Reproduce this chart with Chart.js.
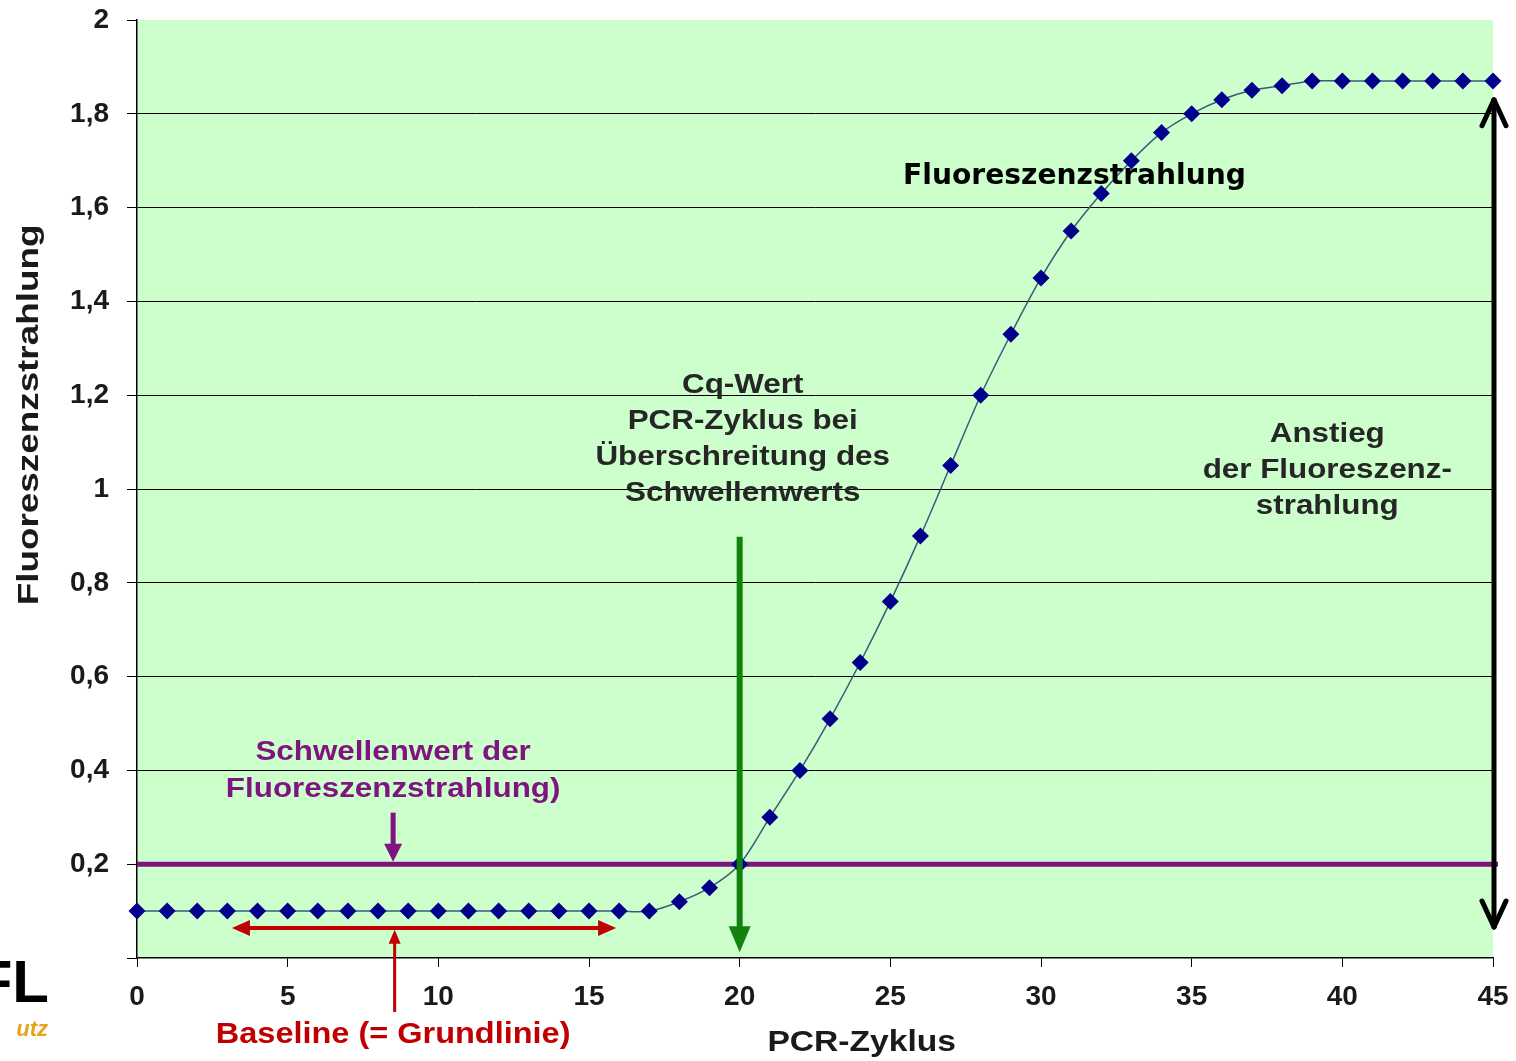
<!DOCTYPE html>
<html>
<head>
<meta charset="utf-8">
<script src="https://cdn.jsdelivr.net/npm/chart.js@4.4.1/dist/chart.umd.min.js"></script>
<style>
  html, body { margin: 0; padding: 0; background: #fff; }
  #wrap { width: 1516px; height: 1061px; position: relative; }
</style>
</head>
<body>
<div id="wrap"><canvas id="chart"></canvas></div>
<script>
// PCR-Zyklus (x) und Fluoreszenz (y)
const cycles = [0,1,2,3,4,5,6,7,8,9,10,11,12,13,14,15,16,17,18,19,20,21,22,23,24,25,26,27,28,29,30,31,32,33,34,35,36,37,38,39,40,41,42,43,44,45];
const fluorescence = [0.1,0.1,0.1,0.1,0.1,0.1,0.1,0.1,0.1,0.1,0.1,0.1,0.1,0.1,0.1,0.1,0.1,0.1,0.12,0.15,0.2,0.3,0.4,0.51,0.63,0.76,0.9,1.05,1.2,1.33,1.45,1.55,1.63,1.7,1.76,1.8,1.83,1.85,1.86,1.87,1.87,1.87,1.87,1.87,1.87,1.87];
const threshold = 0.2;
const cqCycle = 20;
const baselineRange = [3.15, 15.9];
const xTicks = [0,5,10,15,20,25,30,35,40,45];

const FONT = '"Liberation Sans", Arial, sans-serif';
const STRETCH = 1.12; // Text im Original ist leicht in die Breite gezogen

function arrowHead(ctx, x, y, dir, len, half, color) {
  ctx.fillStyle = color;
  ctx.beginPath();
  if (dir === 'down') { ctx.moveTo(x, y); ctx.lineTo(x - half, y - len); ctx.lineTo(x + half, y - len); }
  if (dir === 'up') { ctx.moveTo(x, y); ctx.lineTo(x - half, y + len); ctx.lineTo(x + half, y + len); }
  if (dir === 'left') { ctx.moveTo(x, y); ctx.lineTo(x + len, y - half); ctx.lineTo(x + len, y + half); }
  if (dir === 'right') { ctx.moveTo(x, y); ctx.lineTo(x - len, y - half); ctx.lineTo(x - len, y + half); }
  ctx.closePath();
  ctx.fill();
}

function line(ctx, x1, y1, x2, y2, color, w) {
  ctx.strokeStyle = color;
  ctx.lineWidth = w;
  ctx.beginPath();
  ctx.moveTo(x1, y1);
  ctx.lineTo(x2, y2);
  ctx.stroke();
}

function wideText(ctx, t, x, y, align, sx) {
  ctx.save();
  ctx.translate(x, y);
  ctx.scale(sx, 1);
  ctx.textAlign = align;
  ctx.fillText(t, 0, 0);
  ctx.restore();
}

function texts(ctx, lines, x, y, lh, color, font) {
  ctx.fillStyle = color;
  ctx.font = font;
  ctx.textBaseline = 'middle';
  lines.forEach((t, i) => wideText(ctx, t, x, y + i * lh, 'center', STRETCH));
}

const background = {
  id: 'background',
  beforeDraw(chart) {
    const { ctx, chartArea: a } = chart;
    ctx.save();
    ctx.fillStyle = '#ccffcc';
    ctx.fillRect(a.left, a.top, a.right - a.left, a.bottom - a.top);
    ctx.restore();
  }
};

// Schwellenwertlinie unter den Punkten
const thresholdLine = {
  id: 'thresholdLine',
  beforeDatasetsDraw(chart) {
    const { ctx, scales: { x, y } } = chart;
    ctx.save();
    line(ctx, x.getPixelForValue(0), y.getPixelForValue(threshold), x.getPixelForValue(45) + 5, y.getPixelForValue(threshold), '#7f137f', 5);
    ctx.restore();
  }
};

const annotations = {
  id: 'annotations',
  afterDraw(chart) {
    const { ctx, scales: { x, y } } = chart;
    const px = v => x.getPixelForValue(v);
    const py = v => y.getPixelForValue(v);
    ctx.save();

    // Cq-Pfeil (grün)
    const gx = px(cqCycle);
    line(ctx, gx, py(0.898), gx, py(0.06), '#12820f', 6);
    arrowHead(ctx, gx, py(0.012), 'down', 26, 11, '#12820f');

    // Schwellenwert-Pfeil (lila)
    const sx = px(8.5);
    line(ctx, sx, py(0.31), sx, py(0.24), '#7f137f', 5);
    arrowHead(ctx, sx, py(0.205), 'down', 18, 9, '#7f137f');

    // Baseline-Doppelpfeil (rot)
    const ry = py(0.064);
    line(ctx, px(baselineRange[0]) + 14, ry, px(baselineRange[1]) - 14, ry, '#c00000', 4);
    arrowHead(ctx, px(baselineRange[0]), ry, 'left', 18, 8, '#c00000');
    arrowHead(ctx, px(baselineRange[1]), ry, 'right', 18, 8, '#c00000');
    const rx = px(8.55);
    line(ctx, rx, py(-0.115), rx, py(0.04), '#c00000', 3);
    arrowHead(ctx, rx, py(0.06), 'up', 14, 6, '#c00000');

    // Anstieg-Doppelpfeil (schwarz)
    const bx = px(45) + 1;
    const bTop = py(1.83), bBot = py(0.066);
    line(ctx, bx, bTop + 3, bx, bBot - 3, '#000', 5);
    ctx.lineCap = 'round';
    line(ctx, bx, bTop, bx - 12, bTop + 26, '#000', 5);
    line(ctx, bx, bTop, bx + 12, bTop + 26, '#000', 5);
    line(ctx, bx, bBot, bx - 12, bBot - 26, '#000', 5);
    line(ctx, bx, bBot, bx + 12, bBot - 26, '#000', 5);
    ctx.lineCap = 'butt';

    // Texte
    const f28 = 'bold 28px ' + FONT;
    texts(ctx, ['Cq-Wert', 'PCR-Zyklus bei', 'Überschreitung des', 'Schwellenwerts'], px(20.1), py(1.222), 36, '#262626', f28);
    texts(ctx, ['Anstieg', 'der Fluoreszenz-', 'strahlung'], px(39.5), py(1.117), 36, '#262626', f28);
    texts(ctx, ['Schwellenwert der', 'Fluoreszenzstrahlung)'], px(8.5), py(0.438), 37, '#7f137f', f28);
    texts(ctx, ['Baseline (= Grundlinie)'], px(8.5), py(-0.165), 0, '#c00000', 'bold 29px ' + FONT);

    ctx.fillStyle = '#000';
    ctx.font = 'bold 29px Tahoma, "DejaVu Sans", sans-serif';
    ctx.textAlign = 'left';
    ctx.textBaseline = 'middle';
    ctx.fillText('Fluoreszenzstrahlung', px(25.42), py(1.666), 343);

    // Achsentitel
    ctx.fillStyle = '#1a1a1a';
    ctx.font = 'bold 30px ' + FONT;
    wideText(ctx, 'PCR-Zyklus', px(24.05), py(-0.181), 'center', 1.12);
    ctx.save();
    ctx.translate(30, py(1.158));
    ctx.rotate(-Math.PI / 2);
    ctx.font = 'bold 29px ' + FONT;
    wideText(ctx, 'Fluoreszenzstrahlung', 0, 0, 'center', 1.27);
    ctx.restore();

    // Logo-Reste links unten
    ctx.fillStyle = '#000';
    ctx.font = 'bold 60px ' + FONT;
    ctx.textAlign = 'right';
    ctx.fillText('FL', 49, 985);
    ctx.fillStyle = '#e8a317';
    ctx.font = 'italic bold 22px ' + FONT;
    ctx.fillText('utz', 48, 1030);

    ctx.restore();
  }
};

new Chart(document.getElementById('chart'), {
  type: 'line',
  data: {
    datasets: [{
      label: 'Fluoreszenz',
      data: cycles.map((c, i) => ({ x: c, y: fluorescence[i] })),
      borderColor: '#3a5a7a',
      borderWidth: 1.5,
      backgroundColor: '#00008b',
      pointStyle: 'rectRot',
      pointRadius: 8.5,
      pointBorderWidth: 0,
      tension: 0.3,
      clip: false
    }]
  },
  options: {
    responsive: true,
    maintainAspectRatio: false,
    animation: false,
    layout: { padding: { top: 20, right: 23, left: 0, bottom: 0 } },
    plugins: {
      legend: { display: false },
      tooltip: { enabled: false }
    },
    scales: {
      x: {
        type: 'linear',
        min: 0,
        max: 45,
        afterBuildTicks: s => { s.ticks = xTicks.map(v => ({ value: v })); },
        afterFit: s => { s.height = 103; s.paddingLeft = 0; s.paddingRight = 0; },
        border: { display: true, color: '#000', width: 1.5 },
        grid: { drawOnChartArea: false, drawTicks: true, tickLength: 9, color: '#000' },
        ticks: { color: '#1a1a1a', padding: 13, font: { family: FONT, size: 28, weight: 'bold' } }
      },
      y: {
        min: 0,
        max: 2,
        afterFit: s => { s.width = 137; s.paddingTop = 0; s.paddingBottom = 0; },
        border: { display: true, color: '#000', width: 1.5 },
        grid: {
          color: c => (c.tick && (c.tick.value === 2 || c.tick.value === 0)) ? 'rgba(0,0,0,0)' : '#000',
          tickColor: '#000',
          lineWidth: 1,
          tickLength: 10
        },
        ticks: {
          stepSize: 0.2,
          color: '#1a1a1a',
          padding: 18,
          font: { family: FONT, size: 28, weight: 'bold' },
          callback: v => v === 0 ? '' : String(Math.round(v * 10) / 10).replace('.', ',')
        }
      }
    }
  },
  plugins: [background, thresholdLine, annotations]
});
</script>
</body>
</html>
